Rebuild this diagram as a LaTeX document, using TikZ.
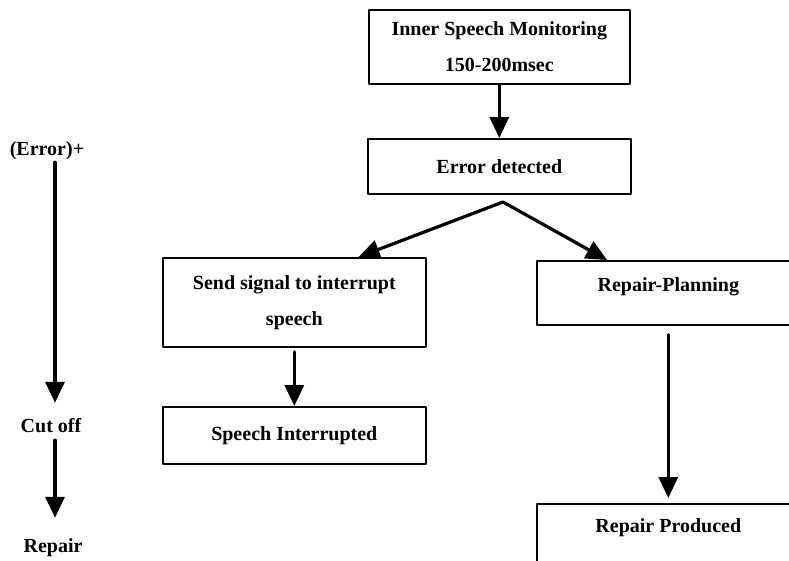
\documentclass[tikz,border=0pt]{standalone}
\usepackage{fontspec}
\setmainfont{Liberation Serif}
\usetikzlibrary{arrows.meta}

\begin{document}
\begin{tikzpicture}[line join=round, line cap=round, x=1pt, y=-1pt, >={Triangle[width=19pt,length=21pt]}]
	\tikzset{every node/.style={font=\fontsize{20}{36}\selectfont\bfseries},
		box/.style={draw, line width=1.6pt, anchor=north west, minimum width=263pt, align=center, inner sep=0pt},
		lab/.style={text height=14pt, text depth=4pt, inner sep=0pt},
		arr/.style={->, line width=3.2pt}}
	\useasboundingbox (0,0) rectangle (789,560);
	\clip (0,0) rectangle (789,560);
	% boxes
	\node[box, minimum width=261pt, minimum height=74pt] (monitor) at (368,9) {Inner Speech Monitoring\\150-200msec};
	\node[box, minimum height=55pt] (err) at (367,138) {Error detected};
	\node[box, minimum height=89pt] (send) at (162,257) {Send signal to interrupt\\speech};
	\node[box, minimum height=64pt, text depth=16pt] (plan) at (536,260) {Repair-Planning};
	\node[box, minimum height=57pt] (intr) at (162,406) {Speech Interrupted};
	\node[box, minimum height=72pt, text depth=28pt] (prod) at (536,503) {Repair Produced};
	% time line on the left
	\node[lab] (errlab) at (47,150) {(Error)+};
	\node[lab] (cutlab) at (51,427) {Cut off};
	\node[lab] (replab) at (53,547) {Repair};
	\coordinate (axis) at (55,0);
	\draw[arr, shorten <=3pt, shorten >=15pt] (errlab.south -| axis) -- (cutlab.north -| axis);
	\draw[arr, shorten <=4pt, shorten >=20pt] (cutlab.south -| axis) -- (replab.north -| axis);
	% connectors
	\coordinate (split) at (503,202);
	\draw[arr] (monitor.south -| err.north) -- (err.north);
	\draw[arr] (split) -- ([xshift=-68pt]send.north east);
	\draw[arr] (split) -- ([xshift=71pt]plan.north west);
	\draw[arr] ([yshift=-4pt]send.south) -- (intr.north);
	\draw[arr] ([yshift=-9pt]plan.south) -- ([yshift=5pt]prod.north);
\end{tikzpicture}
\end{document}
